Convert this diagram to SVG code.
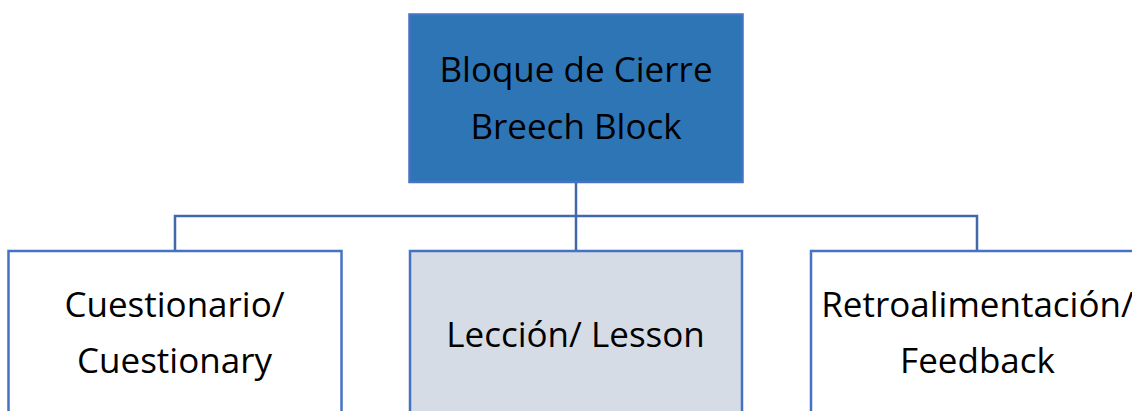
<svg xmlns="http://www.w3.org/2000/svg" width="1132" height="411" viewBox="0 0 1132 411">
<style>
.box{stroke:#4472C4;stroke-width:2.5}
.t{font-family:"Open Sans","Noto Sans",sans-serif;font-size:35px;fill:#000;text-anchor:middle}
.c{fill:none;stroke:#4168A8;stroke-width:2.5}
</style>
<rect width="1132" height="411" fill="#fff"/>
<g id="connectors">
<path class="c" d="M576,182 V250 M175,250 V216 H977 V250"/>
</g>
<g id="root">
<rect class="box" x="409.5" y="14.5" width="333" height="167.5" fill="#2E75B6" stroke="#4A7CC0"/>
<text class="t" x="576" y="82">Bloque de Cierre</text>
<text class="t" x="576" y="139">Breech Block</text>
</g>
<g id="cuestionario">
<rect class="box" x="8.5" y="251" width="333" height="180" fill="#fff"/>
<text class="t" x="174.5" y="317">Cuestionario/</text>
<text class="t" x="174.5" y="373">Cuestionary</text>
</g>
<g id="leccion">
<rect class="box" x="410" y="251" width="332" height="180" fill="#D6DCE5"/>
<text class="t" x="575.5" y="347">Lección/ Lesson</text>
</g>
<g id="retro">
<rect class="box" x="811" y="251" width="333" height="180" fill="#fff"/>
<text class="t" x="977.5" y="317">Retroalimentación/</text>
<text class="t" x="977.5" y="373">Feedback</text>
</g>
</svg>
